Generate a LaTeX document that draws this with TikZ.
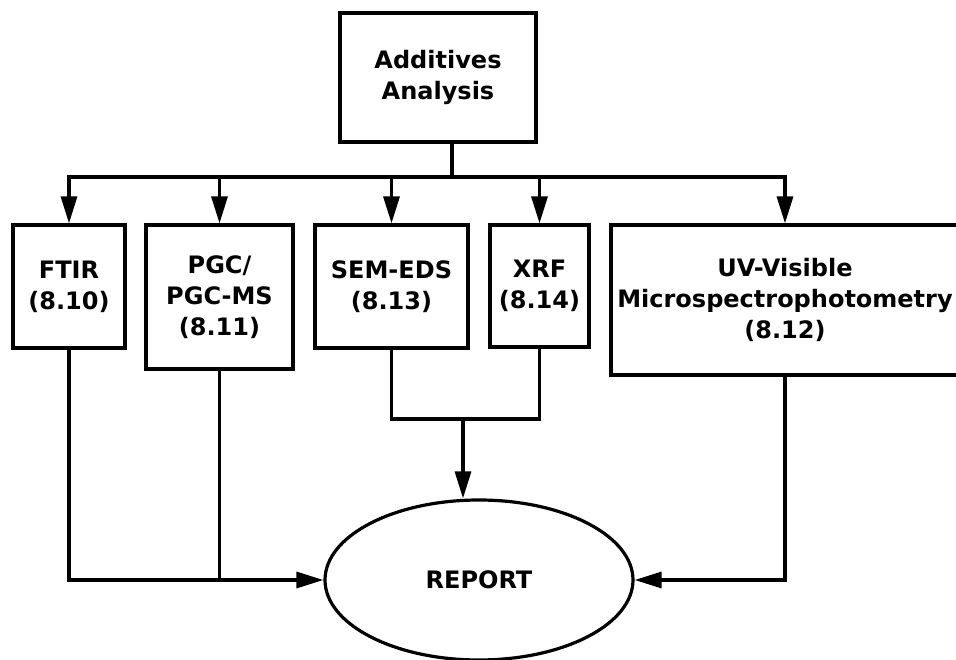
\documentclass[tikz,border=0pt]{standalone}
\usepackage{fontspec}
\setmainfont{DejaVu Sans}
\usepackage{xcolor}
\usepackage{tikz}
\usetikzlibrary{shapes.geometric, positioning, arrows.meta}
\definecolor{InkBlack}{HTML}{000000}

\begin{document}
\begin{tikzpicture}[x=1pt, y=-1pt,
    box/.style={draw=InkBlack, line width=3.2pt, rectangle, align=center, inner sep=0pt,
                font=\fontsize{24}{31}\selectfont\bfseries},
    link/.style={draw=InkBlack, line width=3.2pt},
    arr/.style={link, -{Triangle[length=27pt, width=16pt]}}]
      \clip (0,0) rectangle (956,660);
      \node[box, minimum width=196pt, minimum height=129pt] (add) at (438,77.5) {Additives\\Analysis};
      \node[box, minimum width=112pt, minimum height=123pt] (ftir) at (69,286.5) {FTIR\\(8.10)};
      \node[box, minimum width=147pt, minimum height=144pt] (pgc) at (219.5,297) {PGC/\\PGC-MS\\(8.11)};
      \node[box, minimum width=153pt, minimum height=123pt] (sem) at (391.5,286.5) {SEM-EDS\\(8.13)};
      \node[box, minimum width=99pt, minimum height=122pt] (xrf) at (539.5,286) {XRF\\(8.14)};
      \node[box, minimum width=348pt, minimum height=150pt] (uv) at (785,300) {UV-Visible\\Microspectrophotometry\\(8.12)};
      \node[box, ellipse, minimum width=308pt, minimum height=160pt] (rep) at (479,580) {REPORT};
      \coordinate (split) at (452,177);
      \coordinate (join) at (463,419);
      % fan out to the methods
      \draw[link] (add.south -| split) -- (split);
      \draw[arr] (split) -| (ftir.north);
      \draw[arr] (split) -| (uv.north);
      \foreach \m in {pgc, sem, xrf}
        \draw[arr] (\m.north |- split) -- (\m.north);
      % back to the report
      \draw[arr] (ftir.south) |- (rep.west);
      \draw[link] (pgc.south) -- (pgc.south |- rep.west);
      \draw[link] (sem.south) |- (join) -| (xrf.south);
      \draw[arr] (join) -- (join |- rep.north);
      \draw[arr] (uv.south) |- (rep.east);
    \end{tikzpicture}
\end{document}
